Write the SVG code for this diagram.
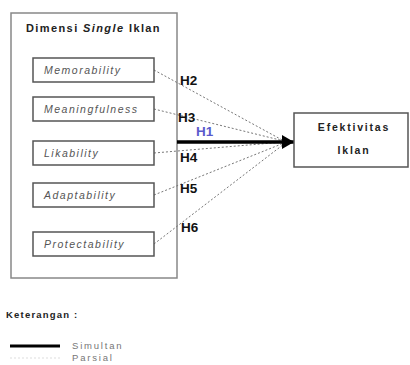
<svg xmlns="http://www.w3.org/2000/svg" width="410" height="365" viewBox="0 0 410 365">
<style>
.box{fill:#fff;stroke:#555;stroke-width:1.5}
.outer{fill:#fff;stroke:#888;stroke-width:1.5}
.var{font-family:"Liberation Sans",Arial,sans-serif;font-size:10.5px;font-style:italic;fill:#555;letter-spacing:1.5px}
.h{font-family:"Liberation Sans",Arial,sans-serif;font-size:13.5px;font-weight:bold;fill:#111}
.dash{stroke:#777;stroke-width:1;stroke-dasharray:2,2;fill:none}
.t{font-family:"Liberation Sans",Arial,sans-serif;font-weight:bold;fill:#222}
.leg{font-family:"Liberation Sans",Arial,sans-serif;font-size:9.5px;fill:#777;letter-spacing:1.8px}
</style>
<defs>
<marker id="ah" markerWidth="12" markerHeight="14" refX="12" refY="7" orient="auto" markerUnits="userSpaceOnUse">
<path d="M0,0 L12,7 L0,14 Z" fill="#000"/>
</marker>
</defs>
<g id="outer">
<rect class="outer" x="11" y="13" width="166" height="265"/>
<text class="t" x="26" y="32" font-size="11" letter-spacing="1.4">Dimensi <tspan font-style="italic">Single</tspan> Iklan</text>
</g>
<g id="connectors">
<line class="dash" x1="154" y1="70" x2="284" y2="141"/>
<line class="dash" x1="154" y1="109" x2="284" y2="141"/>
<line class="dash" x1="154" y1="153" x2="284" y2="142"/>
<line class="dash" x1="154" y1="195" x2="284" y2="143"/>
<line class="dash" x1="154" y1="244" x2="284" y2="144"/>
<line x1="177" y1="142" x2="294" y2="142" stroke="#000" stroke-width="3.5" marker-end="url(#ah)"/>
</g>
<g id="memorability">
<rect class="box" x="33" y="58" width="121" height="24"/>
<text class="var" x="44" y="74">Memorability</text>
</g>
<g id="meaningfulness">
<rect class="box" x="33" y="97" width="121" height="24"/>
<text class="var" x="44" y="113">Meaningfulness</text>
</g>
<g id="likability">
<rect class="box" x="33" y="141" width="121" height="24"/>
<text class="var" x="44" y="157">Likability</text>
</g>
<g id="adaptability">
<rect class="box" x="33" y="183" width="121" height="24"/>
<text class="var" x="44" y="199">Adaptability</text>
</g>
<g id="protectability">
<rect class="box" x="33" y="232" width="121" height="24"/>
<text class="var" x="44" y="248">Protectability</text>
</g>
<g id="efektivitas">
<rect class="box" x="294" y="113" width="114" height="54"/>
<text class="t" x="354" y="131" font-size="10.5" letter-spacing="1.8" text-anchor="middle">Efektivitas</text>
<text class="t" x="354" y="154" font-size="10.5" letter-spacing="1.8" text-anchor="middle">Iklan</text>
</g>
<g id="labels">
<text class="h" x="180" y="85">H2</text>
<text class="h" x="178" y="122">H3</text>
<text class="h" x="196" y="136" style="fill:#5a5acc">H1</text>
<text class="h" x="180" y="162">H4</text>
<text class="h" x="180" y="193">H5</text>
<text class="h" x="181" y="232">H6</text>
</g>
<g id="legend">
<text class="t" x="6" y="318" font-size="9.5" letter-spacing="1.2">Keterangan :</text>
<line x1="10" y1="346" x2="60" y2="346" stroke="#000" stroke-width="3"/>
<text class="leg" x="72" y="349">Simultan</text>
<line class="dash" x1="10" y1="358" x2="60" y2="358" style="stroke:#ddd"/>
<text class="leg" x="72" y="361">Parsial</text>
</g>
</svg>
